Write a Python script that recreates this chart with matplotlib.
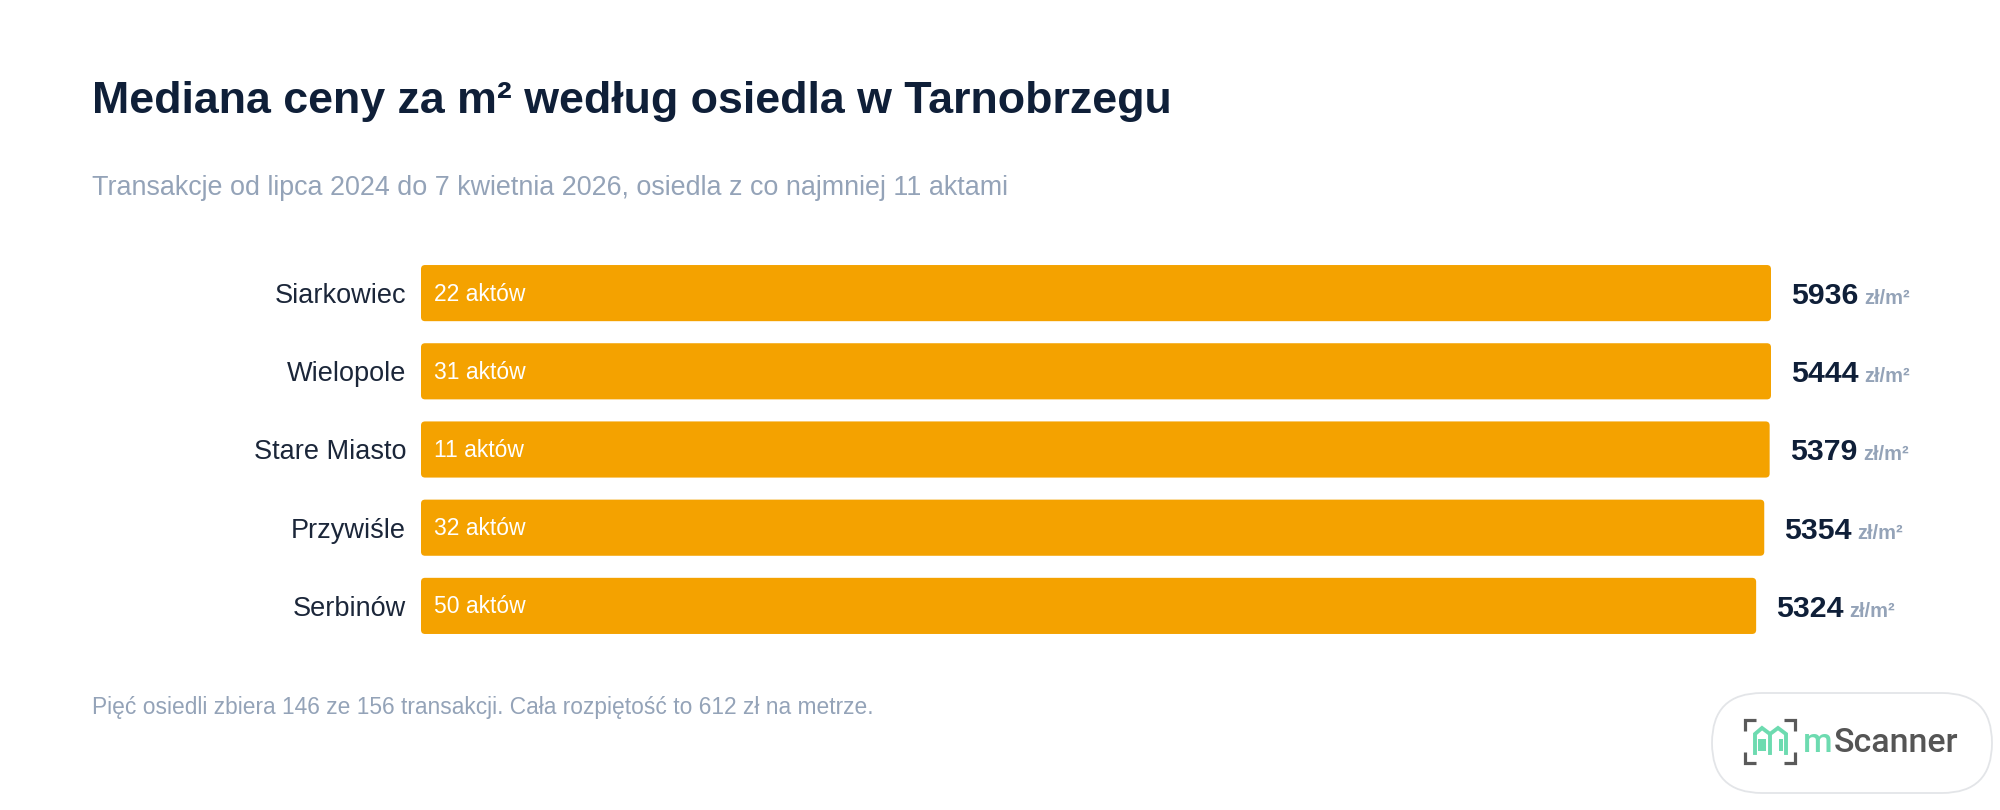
import matplotlib.pyplot as plt
import matplotlib
from matplotlib.patches import FancyBboxPatch

matplotlib.rcParams['font.family'] = ['Liberation Sans', 'DejaVu Sans']

districts = ['Siarkowiec', 'Wielopole', 'Stare Miasto', 'Przywiśle', 'Serbinów']
median_price = [5936, 5444, 5379, 5354, 5324]
deeds = [22, 31, 11, 32, 50]
# długość paska w % najdłuższego, tak jak na oryginale (nie proporcjonalnie do ceny)
bar_share = [100.0, 100.0, 99.9, 99.5, 98.9]

title = 'Mediana ceny za m² według osiedla w Tarnobrzegu'
subtitle = 'Transakcje od lipca 2024 do 7 kwietnia 2026, osiedla z co najmniej 11 aktami'
footer = 'Pięć osiedli zbiera 146 ze 156 transakcji. Cała rozpiętość to 612 zł na metrze.'

NAVY = '#0f1f38'
LABEL = '#1b2639'
GREY = '#94a3b8'
BAR = '#f4a200'
GREEN = '#6ddbb0'

W, H = 2000, 810
fig = plt.figure(figsize=(W / 100, H / 100), dpi=100)
fig.patch.set_facecolor('white')

# warstwa w pikselach na tytuły, stopkę i logo
deco = fig.add_axes([0, 0, 1, 1])
deco.set_xlim(0, W)
deco.set_ylim(H, 0)
deco.axis('off')

deco.text(92, 113, title, fontsize=32.2, fontweight='bold', color=NAVY, va='baseline')
deco.text(92, 195, subtitle, fontsize=19.4, color=GREY, va='baseline')
deco.text(92, 714, footer, fontsize=16.4, color=GREY, va='baseline')

# wykres słupkowy
ax = fig.add_axes([421 / W, 1 - 645 / H, 1350 / W, (645 - 254) / H])
ax.patch.set_alpha(0)
ypos = list(range(len(districts)))
bars = ax.barh(ypos, bar_share, height=56 / 78, color=BAR)
ax.set_xlim(0, 100)
ax.set_ylim(len(districts) - 0.5, -0.5)

# zaokrąglone rogi (~4 px) zamiast prostokątów
asp = (1 / 78) / (100 / 1350)
for r in bars:
    x0, y0 = r.get_x(), r.get_y()
    w, h = r.get_width(), r.get_height()
    r.set_visible(False)
    ax.add_patch(FancyBboxPatch((x0, y0), w, h, boxstyle='round,pad=0,rounding_size=0.3',
                                mutation_aspect=asp, fc=BAR, ec='none'))

for s in ax.spines.values():
    s.set_visible(False)
ax.set_xticks([])
ax.set_yticks(ypos, districts, fontsize=19.5, color=LABEL)
ax.tick_params(axis='y', length=0, pad=10.8)

for i, (v, n, b) in enumerate(zip(median_price, deeds, bar_share)):
    ax.annotate(f'{n} aktów', xy=(0, i), xytext=(9.4, -0.7), textcoords='offset points',
                va='center', ha='left', color='white', fontsize=16.5)
    t = ax.annotate(str(v), xy=(b, i + 0.14), xytext=(14.4, 0), textcoords='offset points',
                    va='baseline', ha='left', fontsize=21.8, fontweight='bold', color=NAVY)
    ax.annotate('zł/m²', xy=(1, i + 0.14), xycoords=(t, 'data'), xytext=(4.3, 0),
                textcoords='offset points', va='baseline', ha='left',
                fontsize=14.5, fontweight='bold', color=GREY)

# logo mScanner
pill = FancyBboxPatch((1712, 693), 280, 100, boxstyle='round,pad=0,rounding_size=50',
                      ec='#e3e5e8', fc='white', lw=1.3)
deco.add_patch(pill)
bk = dict(color='#5a5a5a', lw=2.3, solid_capstyle='butt', solid_joinstyle='miter')
deco.plot([1745, 1745, 1756], [731, 720, 720], **bk)
deco.plot([1784, 1795, 1795], [720, 720, 731], **bk)
deco.plot([1745, 1745, 1756], [752, 763, 763], **bk)
deco.plot([1784, 1795, 1795], [763, 763, 752], **bk)
hs = dict(color=GREEN, lw=2.8, solid_joinstyle='miter')
deco.plot([1755, 1755, 1762, 1770, 1778, 1786, 1786],
          [753, 734, 728, 734, 728, 734, 753], **hs)
deco.plot([1770, 1770], [734, 753], **hs)
for wx in [1760, 1764, 1781]:
    for wy in [741, 745, 749]:
        deco.plot(wx, wy, 's', ms=2.2, color=GREEN, mew=0)
m = deco.text(1803, 752, 'm', fontsize=24.5, color=GREEN, va='baseline',
              family=['Roboto', 'DejaVu Sans'], fontweight='medium')
deco.annotate('Scanner', xy=(1, 752), xycoords=(m, 'data'), xytext=(0.5, 0),
              textcoords='offset points', va='baseline', fontsize=24.5, color='#555555',
              family=['Roboto', 'DejaVu Sans'], fontweight='medium')

fig.savefig('out.png', dpi=100, facecolor='white')
